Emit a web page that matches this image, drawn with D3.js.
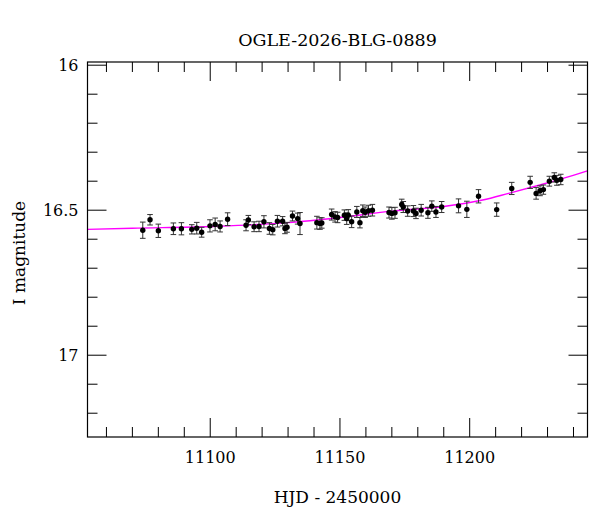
<!DOCTYPE html>
<html>
<head>
<meta charset="utf-8">
<script src="https://cdn.jsdelivr.net/npm/d3@7"></script>
<style>
  body { margin: 0; background: #fff; }
  text { font-family: "DejaVu Serif", serif; fill: #000; }
</style>
</head>
<body>
<div id="chart-area"></div>
<script>
/*
*    light curve
*/

var title = "OGLE-2026-BLG-0889";
var xLabelText = "HJD - 2450000";
var yLabelText = "I magnitude";

var xTicks = [11100, 11150, 11200];
var yTicks = [16, 16.5, 17];

// observations
var hjd = [11074.0, 11076.8, 11080.0, 11085.8, 11088.9, 11092.9, 11094.8, 11096.7, 11099.9, 11101.9,
    11103.8, 11106.7, 11113.8, 11114.7, 11116.9, 11118.8, 11120.7, 11122.8, 11124.1, 11125.9,
    11127.9, 11128.8, 11129.6, 11131.7, 11133.7, 11134.6, 11141.1, 11142.3, 11143.0, 11146.8,
    11148.1, 11149.1, 11151.7, 11152.6, 11153.2, 11154.5, 11156.5, 11157.7, 11158.8, 11159.7,
    11161.0, 11162.5, 11168.9, 11170.0, 11171.2, 11173.8, 11174.4, 11176.1, 11178.3, 11179.3,
    11181.3, 11183.9, 11185.4, 11187.0, 11189.2, 11195.7, 11198.9, 11203.4, 11210.4, 11216.2,
    11223.3, 11225.6, 11227.1, 11228.4, 11230.7, 11232.6, 11233.6, 11235.1];
var mag = [16.569, 16.533, 16.571, 16.564, 16.564, 16.566, 16.562, 16.576, 16.554, 16.549,
    16.556, 16.531, 16.552, 16.534, 16.557, 16.556, 16.540, 16.563, 16.567, 16.538,
    16.538, 16.563, 16.559, 16.520, 16.529, 16.546, 16.543, 16.546, 16.544, 16.515,
    16.523, 16.525, 16.517, 16.529, 16.517, 16.540, 16.506, 16.543, 16.502, 16.507,
    16.502, 16.500, 16.508, 16.511, 16.509, 16.480, 16.489, 16.503, 16.503, 16.511,
    16.500, 16.509, 16.486, 16.506, 16.489, 16.485, 16.497, 16.452, 16.498, 16.425,
    16.404, 16.442, 16.433, 16.429, 16.400, 16.387, 16.397, 16.394];
var magErr = [0.028, 0.018, 0.023, 0.020, 0.021, 0.016, 0.020, 0.017, 0.021, 0.022,
    0.019, 0.022, 0.019, 0.016, 0.017, 0.018, 0.021, 0.020, 0.018, 0.020,
    0.016, 0.018, 0.017, 0.017, 0.019, 0.038, 0.022, 0.020, 0.018, 0.019,
    0.018, 0.018, 0.018, 0.020, 0.019, 0.020, 0.019, 0.018, 0.020, 0.018,
    0.019, 0.020, 0.019, 0.020, 0.019, 0.018, 0.019, 0.018, 0.019, 0.018,
    0.020, 0.019, 0.018, 0.019, 0.019, 0.024, 0.028, 0.023, 0.023, 0.021,
    0.021, 0.020, 0.017, 0.016, 0.017, 0.016, 0.017, 0.018];

// model curve
var modelHjd = [11052.7, 11070, 11100, 11130, 11150, 11170, 11190, 11205, 11215, 11227, 11235, 11245.4];
var modelMag = [16.566, 16.562, 16.556, 16.543, 16.525, 16.503, 16.487, 16.465, 16.442, 16.413, 16.393, 16.364];

var margin = {top: 62, right: 12.5, bottom: 75, left: 87.5};
var width = 600 - margin.left - margin.right;
var height = 512 - margin.top - margin.bottom;

var svg = d3.select('#chart-area')
    .append('svg')
        .attr('width', 600)
        .attr('height', 512);

var g = svg.append("g")
    .attr("transform", "translate(" + margin.left + ", " + margin.top + ")");

var x = d3.scaleLinear().domain([11052.7, 11245.4]).range([0, width]);
var y = d3.scaleLinear().domain([15.989, 17.282]).range([0, height]);

// minor / major ticks on all four sides
var xMinor = d3.range(11060, 11245, 10);
var yMinor = d3.range(16.0, 17.29, 0.1).map(v => +v.toFixed(1));

function isMajorX(v){ return v % 50 == 0; }
function isMajorY(v){ return Math.abs(v * 2 - Math.round(v * 2)) < 1e-6; }

var ticks = g.append("g").attr("class", "ticks")
    .attr("stroke", "#000").attr("stroke-width", 1);

xMinor.forEach((v) => {
    var len = isMajorX(v) ? 19 : 10;
    ticks.append("line").attr("x1", x(v)).attr("x2", x(v)).attr("y1", height).attr("y2", height - len);
    ticks.append("line").attr("x1", x(v)).attr("x2", x(v)).attr("y1", 0).attr("y2", len);
});
yMinor.forEach((v) => {
    var len = isMajorY(v) ? 19 : 10;
    ticks.append("line").attr("y1", y(v)).attr("y2", y(v)).attr("x1", 0).attr("x2", len);
    ticks.append("line").attr("y1", y(v)).attr("y2", y(v)).attr("x1", width).attr("x2", width - len);
});

// tick labels
g.selectAll(".xlab").data(xTicks).enter().append("text")
    .attr("class", "xlab")
    .attr("x", (d) => x(d))
    .attr("y", height + 26)
    .attr("text-anchor", "middle")
    .attr("font-size", "16px")
    .text((d) => d);

g.selectAll(".ylab").data(yTicks).enter().append("text")
    .attr("class", "ylab")
    .attr("x", -9)
    .attr("y", (d) => y(d) + 6)
    .attr("text-anchor", "end")
    .attr("font-size", "16px")
    .text((d) => d);

// model line
var line = d3.line()
    .x((d) => x(d[0]))
    .y((d) => y(d[1]))
    .curve(d3.curveMonotoneX);

g.append("path")
    .datum(modelHjd.map((h, i) => [h, modelMag[i]]))
    .attr("fill", "none")
    .attr("stroke", "#ff00ff")
    .attr("stroke-width", 1.4)
    .attr("d", line);

// data points with error bars
var pts = hjd.map((h, i) => ({t: h, m: mag[i], e: magErr[i]}));

var bars = g.append("g").attr("stroke", "#333").attr("stroke-width", 1);
pts.forEach((d) => {
    var cx = x(d.t);
    bars.append("line").attr("x1", cx).attr("x2", cx).attr("y1", y(d.m - d.e)).attr("y2", y(d.m + d.e));
    bars.append("line").attr("x1", cx - 2.8).attr("x2", cx + 2.8).attr("y1", y(d.m - d.e)).attr("y2", y(d.m - d.e));
    bars.append("line").attr("x1", cx - 2.8).attr("x2", cx + 2.8).attr("y1", y(d.m + d.e)).attr("y2", y(d.m + d.e));
});

g.selectAll("circle").data(pts).enter().append("circle")
    .attr("cx", (d) => x(d.t))
    .attr("cy", (d) => y(d.m))
    .attr("r", 2.7)
    .attr("fill", "#000");

// frame
g.append("rect")
    .attr("width", width)
    .attr("height", height)
    .attr("fill", "none")
    .attr("stroke", "#000")
    .attr("stroke-width", 1.2);

// labels
svg.append("text")
    .attr("x", margin.left + width / 2)
    .attr("y", 46)
    .attr("text-anchor", "middle")
    .attr("font-size", "17.5px")
    .text(title);

svg.append("text")
    .attr("x", margin.left + width / 2)
    .attr("y", 503)
    .attr("text-anchor", "middle")
    .attr("font-size", "17px")
    .text(xLabelText);

svg.append("text")
    .attr("transform", "translate(25, " + 253 + ") rotate(-90)")
    .attr("text-anchor", "middle")
    .attr("font-size", "17px")
    .text(yLabelText);
</script>
</body>
</html>
